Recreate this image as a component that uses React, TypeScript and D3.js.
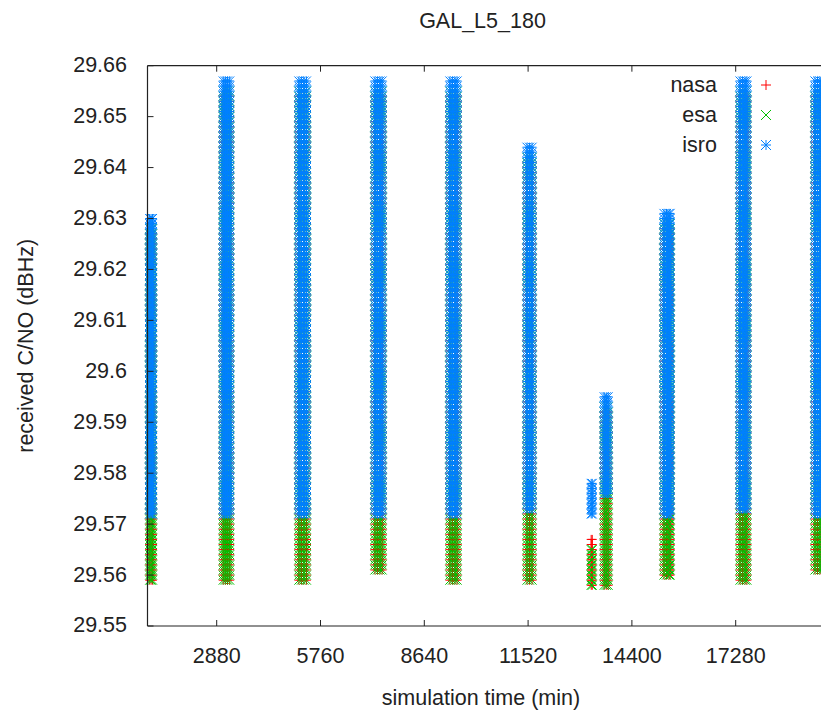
import React from 'react';
import * as d3 from 'd3';

// chart values
const seriesNames = ['nasa', 'esa', 'isro'];
const seriesColors = ['#ff0000', '#00c000', '#0080ff'];
const seriesMarks = ['+', 'x', '*'];

const xTicks = [2880, 5760, 8640, 11520, 14400, 17280];
const yTicks = [29.55, 29.56, 29.57, 29.58, 29.59, 29.6, 29.61, 29.62, 29.63, 29.64, 29.65, 29.66];

// quantised C/N0 levels seen in the columns (dBHz)
const cnoLevels = [
  29.558, 29.559, 29.56, 29.561, 29.562, 29.563, 29.564, 29.565, 29.566, 29.567,
  29.568, 29.569, 29.57, 29.571, 29.572, 29.573, 29.574, 29.575, 29.576, 29.577,
  29.578, 29.579, 29.58, 29.581, 29.582, 29.583, 29.584, 29.585, 29.586, 29.587,
  29.588, 29.589, 29.59, 29.591, 29.592, 29.593, 29.594, 29.595, 29.596, 29.597,
  29.598, 29.599, 29.6, 29.601, 29.602, 29.603, 29.604, 29.605, 29.606, 29.607,
  29.608, 29.609, 29.61, 29.611, 29.612, 29.613, 29.614, 29.615, 29.616, 29.617,
  29.618, 29.619, 29.62, 29.621, 29.622, 29.623, 29.624, 29.625, 29.626, 29.627,
  29.628, 29.629, 29.63, 29.631, 29.632, 29.633, 29.634, 29.635, 29.636, 29.637,
  29.638, 29.639, 29.64, 29.641, 29.642, 29.643, 29.644, 29.645, 29.646, 29.647,
  29.648, 29.649, 29.65, 29.651, 29.652, 29.653, 29.654, 29.655, 29.656, 29.657,
];

// sample times (min) of each visibility pass
const passTimes = [
  [1020, 1060, 1100],
  [3060, 3120, 3180, 3240],
  [5160, 5230, 5300, 5370],
  [7270, 7340, 7410, 7470],
  [9350, 9420, 9490, 9550],
  [11490, 11560, 11630],
  [13270, 13300],
  [13630, 13690, 13740],
  [15290, 15360, 15430, 15460],
  [17400, 17470, 17540, 17590],
  [19480, 19550, 19620, 19680],
];

// [low, high] C/N0 of each series per pass
const nasaBand = [
  [29.559, 29.627], [29.559, 29.654], [29.559, 29.654], [29.561, 29.654],
  [29.559, 29.654], [29.559, 29.641], [29.558, 29.567], [29.558, 29.592],
  [29.56, 29.628], [29.559, 29.654], [29.561, 29.654],
];
const esaBand = [
  [29.559, 29.628], [29.559, 29.655], [29.559, 29.655], [29.561, 29.655],
  [29.559, 29.655], [29.559, 29.642], [29.558, 29.565], [29.558, 29.593],
  [29.56, 29.629], [29.559, 29.655], [29.561, 29.655],
];
const isroBand = [
  [29.572, 29.63], [29.572, 29.657], [29.572, 29.657], [29.572, 29.657],
  [29.572, 29.657], [29.573, 29.644], [29.572, 29.578], [29.576, 29.595],
  [29.572, 29.631], [29.573, 29.657], [29.572, 29.657],
];
const seriesBands = [nasaBand, esaBand, isroBand];

const W = 821;
const H = 711;
const plot = { left: 147.5, right: 839.5, top: 65.7, bottom: 626 };
const font = '"Liberation Sans", Arial, sans-serif';
const fs = 21.5;
const ink = '#222';

const x = d3.scaleLinear().domain([960, 20160]).range([plot.left, plot.right]);
const y = d3.scaleLinear().domain([29.55, 29.66]).range([plot.bottom, plot.top]);

function mark(kind: string, cx: number, cy: number, r: number) {
  let d = '';
  if (kind === '+' || kind === '*') {
    d += `M${cx - r},${cy}h${2 * r}M${cx},${cy - r}v${2 * r}`;
  }
  if (kind === 'x' || kind === '*') {
    d += `M${cx - r},${cy - r}l${2 * r},${2 * r}M${cx - r},${cy + r}l${2 * r},${-2 * r}`;
  }
  return d;
}

function seriesPath(si: number) {
  let d = '';
  passTimes.forEach((times, pi) => {
    const [lo, hi] = seriesBands[si][pi];
    const levels = cnoLevels.filter((v) => v >= lo - 1e-9 && v <= hi + 1e-9);
    times.forEach((t) => {
      levels.forEach((v) => {
        d += mark(seriesMarks[si], x(t), y(v), 4.5);
      });
    });
  });
  return d;
}

export default function App() {
  const fmt = (v: number) => String(+v.toFixed(2));
  return (
    <svg
      width={W}
      height={H}
      style={{ position: 'absolute', left: 0, top: 0, background: '#fff' }}
      fontFamily={font}
    >
      <text x={482.5} y={28} textAnchor="middle" fontSize={fs} fill={ink}>
        GAL_L5_180
      </text>

      {seriesNames.map((name, i) => (
        <path key={name} d={seriesPath(i)} stroke={seriesColors[i]} strokeWidth={1} fill="none" />
      ))}

      {/* frame */}
      <line x1={plot.left} x2={plot.right} y1={plot.top} y2={plot.top} stroke={ink} strokeWidth={1.2} />
      <line x1={plot.left} x2={plot.right} y1={plot.bottom} y2={plot.bottom} stroke={ink} strokeWidth={1.2} />
      <line x1={plot.left} x2={plot.left} y1={plot.top} y2={plot.bottom} stroke={ink} strokeWidth={1.2} />
      <line x1={plot.right} x2={plot.right} y1={plot.top} y2={plot.bottom} stroke={ink} strokeWidth={1.2} />

      {yTicks.map((v) => (
        <g key={v}>
          <line x1={plot.left} x2={plot.left + 6} y1={y(v)} y2={y(v)} stroke={ink} />
          <line x1={plot.right} x2={plot.right - 6} y1={y(v)} y2={y(v)} stroke={ink} />
          <text x={127} y={y(v)} dy="0.3em" textAnchor="end" fontSize={fs} fill={ink}>
            {fmt(v)}
          </text>
        </g>
      ))}

      {xTicks.map((v) => (
        <g key={v}>
          <line x1={x(v)} x2={x(v)} y1={plot.bottom} y2={plot.bottom - 6} stroke={ink} />
          <line x1={x(v)} x2={x(v)} y1={plot.top} y2={plot.top + 6} stroke={ink} />
          <text x={x(v)} y={663} textAnchor="middle" fontSize={fs} fill={ink}>
            {v}
          </text>
        </g>
      ))}

      <text x={481} y={705} textAnchor="middle" fontSize={fs} fill={ink}>
        simulation time (min)
      </text>
      <text
        transform={`translate(33,${(plot.top + plot.bottom) / 2}) rotate(-90)`}
        textAnchor="middle"
        fontSize={fs}
        fill={ink}
      >
        received C/NO (dBHz)
      </text>

      {seriesNames.map((name, i) => {
        const ly = 85 + i * 30;
        return (
          <g key={name}>
            <text x={717} y={ly} dy="0.33em" textAnchor="end" fontSize={fs} fill={ink}>
              {name}
            </text>
            <path d={mark(seriesMarks[i], 766, ly, 5)} stroke={seriesColors[i]} strokeWidth={1} fill="none" />
          </g>
        );
      })}
    </svg>
  );
}
